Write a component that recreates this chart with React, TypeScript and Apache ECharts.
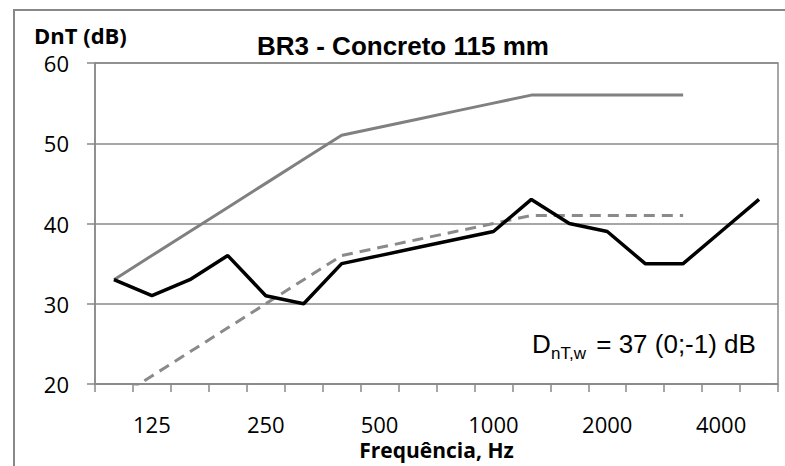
import React, { useEffect, useRef } from "react";
import * as echarts from "echarts";

const categories = ["100", "125", "160", "200", "250", "315", "400", "500", "630", "800", "1000", "1250", "1600", "2000", "2500", "3150", "4000", "5000"];
const measured = [33, 31, 33, 36, 31, 30, 35, 36, 37, 38, 39, 43, 40, 39, 35, 35, 39, 43];
const reference = [33, 36, 39, 42, 45, 48, 51, 52, 53, 54, 55, 56, 56, 56, 56, 56, null, null];
const shifted = [18, 21, 24, 27, 30, 33, 36, 37, 38, 39, 40, 41, 41, 41, 41, 41, null, null];
const yTicks = { min: 20, max: 60, interval: 10 };
const titleText = "BR3 - Concreto 115 mm";
const yName = "DnT (dB)";
const xName = "Frequência, Hz";
const noteMain = "D";
const noteSub = "nT,w";
const noteRest = " = 37 (0;-1) dB";

export default function App() {
  const ref = useRef<HTMLDivElement>(null);
  useEffect(() => {
    if (!ref.current) return;
    const chart = echarts.init(ref.current, null, { renderer: "svg" });
    const gray = "#898989";
    const noteFont = { fontFamily: "Liberation Sans", fill: "#000", verticalAlign: "middle" as const, align: "left" as const };
    chart.setOption({
      animation: false,
      backgroundColor: "#ffffff",
      title: {
        text: titleText,
        left: 257,
        top: 33,
        padding: 0,
        textStyle: { fontFamily: "Liberation Sans", fontWeight: "bold", fontSize: 26, color: "#000" },
      },
      grid: { left: 95, top: 63, right: 7, bottom: 82, show: true, borderColor: gray, borderWidth: 1.5, backgroundColor: "transparent" },
      xAxis: {
        type: "category",
        data: categories,
        boundaryGap: true,
        name: xName,
        nameLocation: "middle",
        nameGap: 55,
        nameTextStyle: { fontFamily: "Open Sans", fontWeight: "bold", fontSize: 21, color: "#000" },
        axisLine: { lineStyle: { color: gray, width: 1.5 } },
        axisTick: { show: true, interval: 0, length: 8, lineStyle: { color: gray, width: 1.5 } },
        axisLabel: {
          interval: (idx: number) => idx % 3 === 1,
          margin: 29,
          fontFamily: "Open Sans",
          fontSize: 22,
          color: "#000",
        },
        splitLine: { show: false },
      },
      yAxis: {
        type: "value",
        min: yTicks.min,
        max: yTicks.max,
        interval: yTicks.interval,
        axisLine: { show: true, lineStyle: { color: gray, width: 1.5 } },
        axisTick: { show: true, length: 8, lineStyle: { color: gray, width: 1.5 } },
        axisLabel: { margin: 26, fontFamily: "Open Sans", fontSize: 22, color: "#000" },
        splitLine: { show: true, lineStyle: { color: gray, width: 1.5 } },
      },
      graphic: [
        {
          type: "rect",
          silent: true,
          shape: { x: 14, y: 10, width: 800, height: 480 },
          style: { fill: "none", stroke: "#888888", lineWidth: 2 },
        },
        {
          type: "text",
          x: 34,
          y: 24,
          style: {
            text: yName,
            fontFamily: "Open Sans",
            fontWeight: "bold",
            fontSize: 22,
            fill: "#000",
            verticalAlign: "top",
          },
        },
        { type: "text", x: 532, y: 344, style: { ...noteFont, text: noteMain, fontSize: 26 } },
        { type: "text", x: 551, y: 353, style: { ...noteFont, text: noteSub, fontSize: 17 } },
        { type: "text", x: 589, y: 344, style: { ...noteFont, text: noteRest, fontSize: 26 } },
      ],
      series: [
        {
          name: "Referência",
          type: "line",
          data: reference,
          symbol: "none",
          clip: true,
          lineStyle: { color: "#808080", width: 3 },
          z: 2,
        },
        {
          name: "Referência deslocada",
          type: "line",
          data: shifted,
          symbol: "none",
          clip: true,
          lineStyle: { color: "#8a8a8a", width: 3, type: [11, 7] },
          z: 2,
        },
        {
          name: "Medido",
          type: "line",
          data: measured,
          symbol: "none",
          clip: true,
          lineStyle: { color: "#000000", width: 3.5 },
          z: 3,
        },
      ],
    });
    return () => chart.dispose();
  }, []);
  return <div ref={ref} style={{ position: "absolute", left: 0, top: 0, width: 785, height: 466 }} />;
}
